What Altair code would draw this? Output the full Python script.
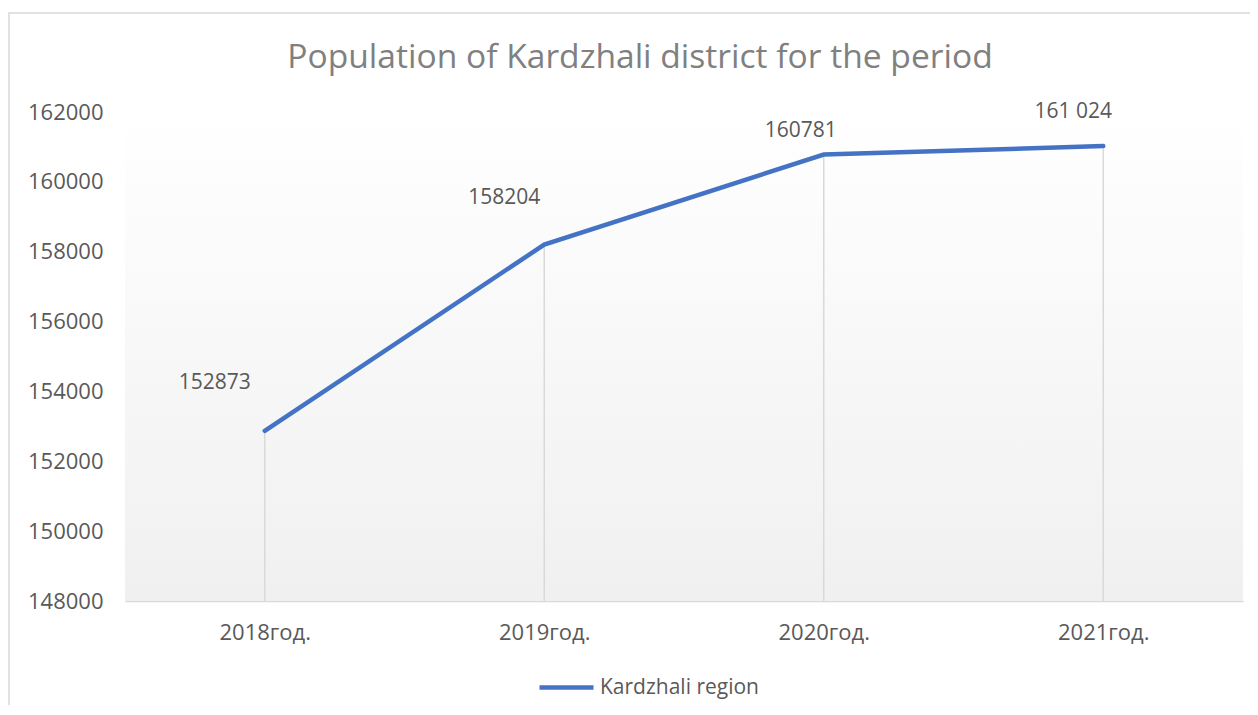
import altair as alt
import pandas as pd

years = ["2018год.", "2019год.", "2020год.", "2021год."]
population = [152873, 158204, 160781, 161024]
value_labels = ["152873", "158204", "160781", "161 024"]
series_name = "Kardzhali region"
y_ticks = [148000, 150000, 152000, 154000, 156000, 158000, 160000, 162000]
title_text = "Population of Kardzhali district for the period"

df = pd.DataFrame({"year": years, "value": population, "label": value_labels,
                   "series": [series_name] * len(years)})

W, H = 1118, 489
PAD_L, PAD_T = 117, 104
FONT = "Open Sans"
BLUE = "#4472C4"

x_enc = alt.X("year:N", sort=years, scale=alt.Scale(type="point", padding=0.5),
              axis=alt.Axis(title=None, labelAngle=0, ticks=False, grid=False,
                            domainColor="#d9d9d9", domainWidth=1.5,
                            labelFont=FONT, labelFontSize=22, labelColor="#595959",
                            labelPadding=21))
y_scale = alt.Scale(domain=[148000, 162000], nice=False, zero=False)
y_enc = alt.Y("value:Q", scale=y_scale,
              axis=alt.Axis(title=None, values=y_ticks, format="d", domain=False,
                            ticks=False, grid=False, labelFont=FONT, labelFontSize=22,
                            labelColor="#595959", labelPadding=22))

base = alt.Chart(df)
one = alt.Data(values=[{"t": title_text}])

bg = alt.Chart(one).mark_rect(
    color=alt.LinearGradient(gradient="linear",
                             stops=[alt.GradientStop(offset=0, color="#ffffff"),
                                    alt.GradientStop(offset=1, color="#f0f0f0")],
                             x1=0, x2=0, y1=0, y2=1)
).encode(x=alt.value(0), x2=alt.value(W), y=alt.value(0), y2=alt.value(H))

border = alt.Chart(one).mark_rect(
    fillOpacity=0, stroke="#d9d9d9", strokeWidth=1.5
).encode(x=alt.value(9 - 8 - PAD_L), x2=alt.value(W + 200),
         y=alt.value(13 - 8 - PAD_T), y2=alt.value(H + 300))

title = alt.Chart(one).mark_text(
    font=FONT, fontSize=33.6, color="#808080", align="center", baseline="alphabetic"
).encode(text="t:N", x=alt.value(640 - 8 - PAD_L), y=alt.value(68 - 8 - PAD_T))

drops = base.mark_rule(color="#d9d9d9", strokeWidth=1.5).encode(
    x=x_enc, y=y_enc, y2=alt.datum(148000))

line = base.mark_line(strokeWidth=4.5, strokeCap="round").encode(
    x=x_enc, y=y_enc,
    color=alt.Color("series:N", scale=alt.Scale(range=[BLUE]),
                    legend=alt.Legend(title=None, orient="none", legendX=412, legendY=546,
                                      symbolType="stroke", symbolSize=2916,
                                      symbolStrokeWidth=4.5, labelFont=FONT,
                                      labelFontSize=21, labelColor="#595959",
                                      labelOffset=4)))

offsets = {"2018год.": (-50, -48), "2019год.": (-40, -47),
           "2020год.": (-23, -24), "2021год.": (-30, -34)}
texts = []
for yr in years:
    dx, dy = offsets[yr]
    texts.append(base.transform_filter(alt.datum.year == yr).mark_text(
        font=FONT, fontSize=21, color="#595959", dx=dx, dy=dy, baseline="middle"
    ).encode(x=x_enc, y=y_enc, text="label:N"))

chart = alt.layer(bg, border, title, drops, line, *texts).properties(
    width=W, height=H,
    autosize=alt.AutoSizeParams(type="none"),
    padding={"left": PAD_L, "top": PAD_T, "right": 7, "bottom": 104},
).configure_view(strokeWidth=0)

chart.save("out.html", embed_options={"renderer": "svg", "actions": False})
